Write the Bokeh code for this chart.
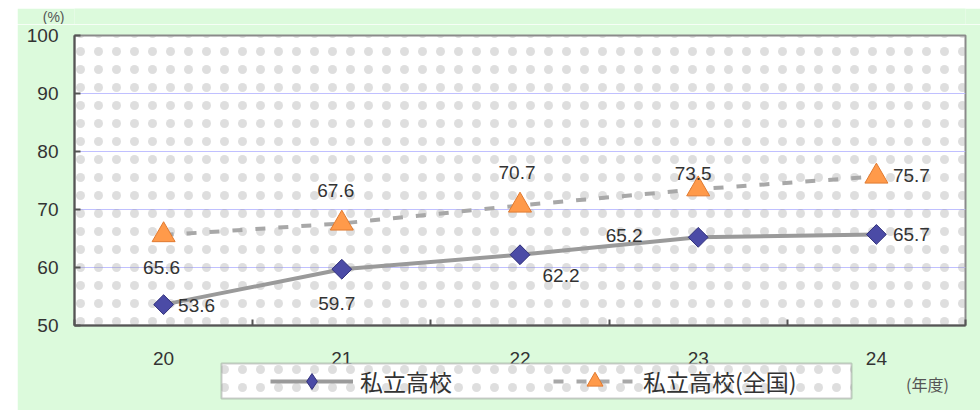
import math
from bokeh.plotting import figure
from bokeh.models import (ColumnDataSource, FixedTicker, Range1d, Legend, LegendItem,
                          LabelSet, Label, BoxAnnotation, Spacer)
from bokeh.layouts import column, row
from bokeh.core.properties import value
from bokeh.embed import file_html
from bokeh.resources import INLINE

# ---------------- data ----------------
years = ["20", "21", "22", "23", "24"]
private_rate = [53.6, 59.7, 62.2, 65.2, 65.7]
national_rate = [65.6, 67.6, 70.7, 73.5, 75.7]
y_ticks = [50, 60, 70, 80, 90, 100]
series_names = ["私立高校", "私立高校(全国)"]
unit_y = "(%)"
unit_x = "(年度)"

# data-label placement: pixel offsets from each point (right = +x, up = +y)
private_dx = [33, -5, 41, -74, 35]
private_dy = [-1, -34, -21, 2, 0]
national_dx = [-2, -6, -3, -5, 35]
national_dy = [-32, 33, 33, 16, 1]

xs = list(range(len(years)))

NUM_FONT = "Liberation Sans"
JP_FONT = "Noto Sans CJK JP"
TEXT_COLOR = "#333333"
GREEN = "#dcfadc"
DOT = dict(hatch_pattern=".", hatch_color="#a0a0a0", hatch_scale=18,
           hatch_weight=0.5, hatch_alpha=0.35)

PRIV_LINE = dict(line_color="#9a9a9a", line_width=4)
NAT_LINE = dict(line_color="#a8a8a8", line_width=4, line_dash="10 13")
PRIV_MARK = dict(marker="square", size=14, angle=math.pi / 4,
                 fill_color="#4b4ba6", line_color="#30307a", line_width=1)
NAT_MARK = dict(marker="triangle", size=23,
                fill_color="#ff9a4a", line_color="#e07a30", line_width=1)

FULL_W = 963
B_LEFT, B_RIGHT = 57, 15          # borders around the plotting frame
FRAME_W = FULL_W - B_LEFT - B_RIGHT
TOP_H = 16
MAIN_H = 386
BOT_H = 50

# ---------------- top strip: unit of y ----------------
top = figure(width=FULL_W, height=TOP_H, x_range=Range1d(0, FRAME_W), y_range=Range1d(0, TOP_H),
             output_backend="svg", toolbar_location=None,
             x_axis_location=None, y_axis_location="left",
             min_border_left=B_LEFT, min_border_right=B_RIGHT,
             min_border_top=0, min_border_bottom=0)
top.grid.visible = False
top.outline_line_color = None
top.background_fill_color = GREEN
top.border_fill_color = GREEN
top.yaxis.ticker = FixedTicker(ticks=[], minor_ticks=[])
top.yaxis.axis_line_color = None
top.yaxis.major_tick_line_color = None
top.yaxis.minor_tick_line_color = None
top.yaxis.axis_label = unit_y
top.yaxis.axis_label_orientation = "horizontal"
top.yaxis.axis_label_standoff = 10
top.yaxis.axis_label_text_font = NUM_FONT
top.yaxis.axis_label_text_font_style = "normal"
top.yaxis.axis_label_text_font_size = "14px"
top.yaxis.axis_label_text_color = "#555555"

# ---------------- main chart ----------------
p = figure(width=FULL_W, height=MAIN_H,
           x_range=Range1d(-0.5, len(years) - 0.5),
           y_range=Range1d(y_ticks[0], y_ticks[-1]),
           output_backend="svg", toolbar_location=None,
           min_border_left=B_LEFT, min_border_right=B_RIGHT,
           min_border_top=11, min_border_bottom=85)

p.background_fill_color = "white"
p.border_fill_color = GREEN
p.outline_line_color = "#8a8a8a"
p.outline_line_width = 2

p.add_layout(BoxAnnotation(fill_alpha=0, line_alpha=0, level="underlay", **DOT))

p.xgrid.grid_line_color = None
p.ygrid.ticker = FixedTicker(ticks=y_ticks)
p.ygrid.grid_line_color = "#c0c0ff"
p.ygrid.grid_line_width = 1

p.xaxis.ticker = FixedTicker(ticks=xs, minor_ticks=[i - 0.5 for i in range(len(years) + 1)])
p.xaxis.major_label_overrides = {i: y for i, y in zip(xs, years)}
p.xaxis.major_tick_in = 0
p.xaxis.major_tick_out = 0
p.xaxis.minor_tick_in = 6
p.xaxis.minor_tick_out = 0
p.xaxis.minor_tick_line_color = "#555555"
p.xaxis.minor_tick_line_width = 2
p.xaxis.major_label_standoff = 26

p.yaxis.ticker = FixedTicker(ticks=y_ticks, minor_ticks=[])
p.yaxis.major_tick_in = 6
p.yaxis.major_tick_out = 0
p.yaxis.major_tick_line_color = "#555555"
p.yaxis.major_tick_line_width = 2
p.yaxis.major_label_standoff = 16

for ax in (p.xaxis, p.yaxis):
    ax.axis_line_color = "#555555"
    ax.axis_line_width = 2
    ax.major_label_text_font = NUM_FONT
    ax.major_label_text_font_size = "19px"
    ax.major_label_text_color = TEXT_COLOR

src_p = ColumnDataSource(dict(x=xs, y=private_rate, t=[f"{v:.1f}" for v in private_rate],
                              dx=private_dx, dy=private_dy))
src_n = ColumnDataSource(dict(x=xs, y=national_rate, t=[f"{v:.1f}" for v in national_rate],
                              dx=national_dx, dy=national_dy))

p.line("x", "y", source=src_n, **NAT_LINE)
p.line("x", "y", source=src_p, **PRIV_LINE)
p.scatter("x", "y", source=src_n, **NAT_MARK)
p.scatter("x", "y", source=src_p, **PRIV_MARK)

for src in (src_p, src_n):
    p.add_layout(LabelSet(x="x", y="y", text="t", source=src,
                          x_offset="dx", y_offset="dy",
                          text_align="center", text_baseline="middle",
                          text_font=value(NUM_FONT), text_font_size=value("19px"),
                          text_color=TEXT_COLOR))

# ---------------- bottom overlay: legend and unit of x ----------------
bot = figure(width=FULL_W, height=BOT_H, x_range=Range1d(0, FRAME_W), y_range=Range1d(0, BOT_H),
             output_backend="svg", toolbar_location=None,
             x_axis_location=None, y_axis_location=None,
             min_border_left=B_LEFT, min_border_right=B_RIGHT,
             min_border_top=0, min_border_bottom=0)
bot.grid.visible = False
bot.outline_line_color = None
bot.background_fill_alpha = 0
bot.border_fill_alpha = 0
bot.margin = (-BOT_H, 0, 0, 0)

bot.add_layout(BoxAnnotation(left=147, right=777, bottom=12, top=47,
                             fill_color="white", fill_alpha=1,
                             line_color="#555555", line_width=2, **DOT))
# legend proxies: same series drawn on a range far outside the visible strip
bot.extra_y_ranges = {"proxy": Range1d(1000, 1001)}
lg_p = [bot.line("x", "y", source=src_p, y_range_name="proxy", **PRIV_LINE),
        bot.scatter("x", "y", source=src_p, y_range_name="proxy",
                    **dict(PRIV_MARK, marker="diamond"))]
lg_n = [bot.line("x", "y", source=src_n, y_range_name="proxy", **NAT_LINE),
        bot.scatter("x", "y", source=src_n, y_range_name="proxy", **NAT_MARK)]
legend = Legend(items=[LegendItem(label=series_names[0], renderers=lg_p),
                       LegendItem(label=series_names[1], renderers=lg_n)],
                orientation="horizontal", location=(196, 9.5),
                glyph_width=83, glyph_height=40, label_standoff=7, spacing=101,
                padding=0, margin=0,
                border_line_alpha=0, background_fill_alpha=0,
                label_text_font=JP_FONT, label_text_font_size="23px",
                label_text_color=TEXT_COLOR)
bot.add_layout(legend, "center")
bot.add_layout(Label(x=853, y=27, text=unit_x, text_align="center", text_baseline="middle",
                     text_font=JP_FONT, text_font_size="16px", text_color="#555555"))

layout = column(Spacer(height=8),
                row(Spacer(width=17), column(top, p, bot, spacing=0), spacing=0),
                spacing=0)

open("out.html", "w").write(file_html(layout, INLINE))
